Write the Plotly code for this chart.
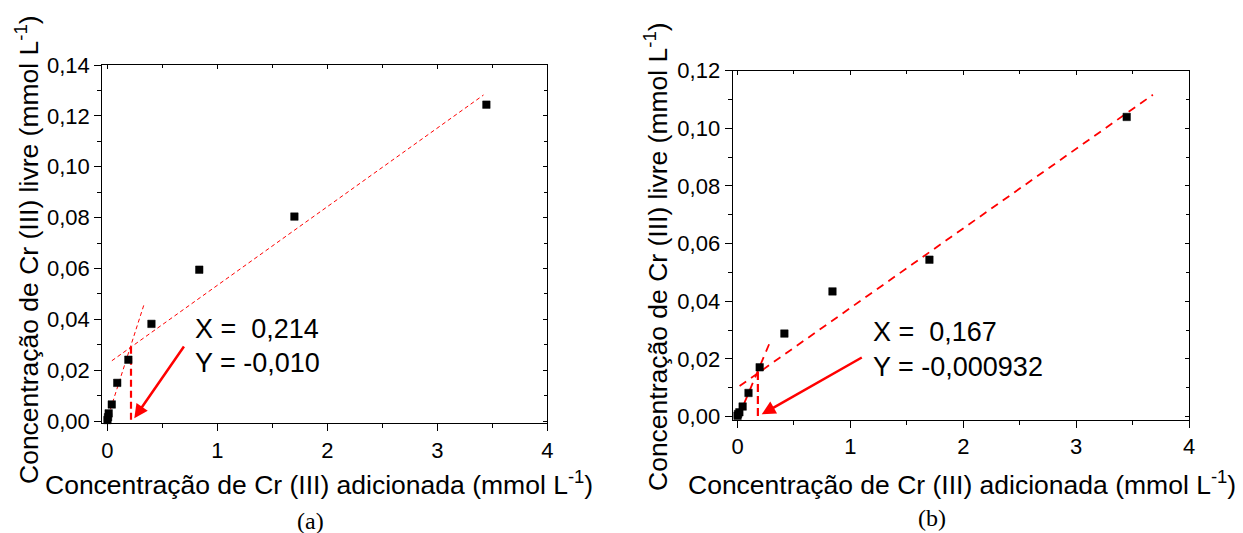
import plotly.graph_objects as go

W, H = 1243, 533
OFF = 8  # the page body offsets the figure by 8 px

# ---------------- data ----------------
# panel (a)
a_x = [0.0, 0.005, 0.011, 0.039, 0.089, 0.19, 0.40, 0.835, 1.70, 3.446]
a_y = [0.0004, 0.0015, 0.003, 0.0065, 0.015, 0.0241, 0.0382, 0.0595, 0.0804, 0.1244]
a_fit1_x = [0.04, 3.42]
a_fit1_y = [0.0237, 0.1282]
a_fit2_x = [-0.012, 0.33]
a_fit2_y = [-0.0006, 0.0455]
a_vline_x = [0.214, 0.214]
a_vline_y = [0.0292, -0.001]
a_arrow_tip = (0.244, 0.0011)
a_arrow_tail = (0.705, 0.0299)
a_text_pos = (0.775, [0.0363, 0.0227])
a_text = ["X =\u00a0\u00a00,214", "Y = -0,010"]

# panel (b)
b_x = [0.0, 0.004, 0.016, 0.045, 0.097, 0.196, 0.415, 0.841, 1.70, 3.448]
b_y = [0.0003, 0.0009, 0.0015, 0.0035, 0.0082, 0.0171, 0.0288, 0.0434, 0.0544, 0.1039]
b_fit1_x = [0.018, 3.68]
b_fit1_y = [0.0106, 0.1116]
b_fit2_x = [-0.037, 0.30]
b_fit2_y = [-0.0043, 0.027]
b_vline_x = [0.18, 0.18]
b_vline_y = [0.0155, -0.001]
b_arrow_tip = (0.214, 0.0008)
b_arrow_tail = (1.114, 0.0208)
b_text_pos = (1.18, [0.0295, 0.0173])
b_text = ["X =\u00a0\u00a00,167", "Y = -0,000932"]

x_title = "Concentração de Cr (III) adicionada (mmol L<sup>-1</sup>)"
y_title = "Concentração de Cr (III) livre (mmol L<sup>-1</sup>)"
captions = ["(a)", "(b)"]

# ---------------- layout geometry (pixels) ----------------
def px_x(x):
    return (x - OFF) / W

def px_y(y):
    return 1 - (y - OFF) / H

def px_dom_x(l, r):
    return [px_x(l), px_x(r)]

def px_dom_y(top, bottom):
    return [px_y(bottom), px_y(top)]

FONT = "Liberation Sans, Arial, sans-serif"
RED = "#ff0000"

fig = go.Figure()

def add_panel(xs, ys, f1x, f1y, f2x, f2y, vx, vy, xa, ya, dash_fit, wfit, dash_v):
    fig.add_trace(go.Scatter(x=f1x, y=f1y, mode="lines", xaxis=xa, yaxis=ya,
                             line=dict(color=RED, width=wfit, dash=dash_fit),
                             showlegend=False, hoverinfo="skip"))
    fig.add_trace(go.Scatter(x=f2x, y=f2y, mode="lines", xaxis=xa, yaxis=ya,
                             line=dict(color=RED, width=wfit, dash=dash_fit),
                             showlegend=False, hoverinfo="skip"))
    fig.add_trace(go.Scatter(x=vx, y=vy, mode="lines", xaxis=xa, yaxis=ya,
                             line=dict(color=RED, width=2.2, dash=dash_v),
                             showlegend=False, hoverinfo="skip"))
    fig.add_trace(go.Scatter(x=xs, y=ys, mode="markers", xaxis=xa, yaxis=ya,
                             marker=dict(symbol="square", size=7.5, color="black",
                                         line=dict(color="black", width=0.5)),
                             showlegend=False, cliponaxis=False))

add_panel(a_x, a_y, a_fit1_x, a_fit1_y, a_fit2_x, a_fit2_y, a_vline_x, a_vline_y,
          "x", "y", "4px,3px", 1.0, "7px,4px")
add_panel(b_x, b_y, b_fit1_x, b_fit1_y, b_fit2_x, b_fit2_y, b_vline_x, b_vline_y,
          "x2", "y2", "8px,6px", 1.8, "8px,4px")

# invisible traces so that the overlay (inner-tick) axes exist
fig.add_trace(go.Scatter(x=[None], y=[None], xaxis="x3", yaxis="y3", showlegend=False, hoverinfo="skip"))
fig.add_trace(go.Scatter(x=[None], y=[None], xaxis="x4", yaxis="y4", showlegend=False, hoverinfo="skip"))

tickfont = dict(family=FONT, size=22, color="black")

def xax(dom, rng, anchor):
    return dict(domain=dom, range=rng, anchor=anchor, tick0=0, dtick=1, tickformat="d",
                ticks="outside", ticklen=7, tickwidth=1.3, tickcolor="black",
                showline=True, linecolor="black", linewidth=1.3, mirror=True,
                showgrid=False, zeroline=False, tickfont=tickfont, automargin=False,
                minor=dict(dtick=0.5, ticks="outside", ticklen=4, tickwidth=1.2, tickcolor="black",
                           showgrid=False))

def yax(dom, rng, anchor):
    return dict(domain=dom, range=rng, anchor=anchor, tick0=0, dtick=0.02, tickformat=".2f",
                ticks="outside", ticklen=7, tickwidth=1.3, tickcolor="black",
                showline=True, linecolor="black", linewidth=1.3, mirror=True,
                showgrid=False, zeroline=False, tickfont=tickfont, automargin=False,
                minor=dict(dtick=0.01, ticks="outside", ticklen=4, tickwidth=1.2, tickcolor="black",
                           showgrid=False))

def xover(base, rng, anchor, dtick, mdtick):
    return dict(overlaying=base, side="top", anchor=anchor, range=rng, tick0=0, dtick=dtick,
                ticks="inside", ticklen=4, tickwidth=1.1, tickcolor="black", automargin=False,
                showticklabels=False, showline=False, showgrid=False, zeroline=False,
                minor=dict(dtick=mdtick, ticks="inside", ticklen=3, tickwidth=1.0, tickcolor="black"))

def yover(base, rng, anchor, dtick, mdtick):
    return dict(overlaying=base, side="right", anchor=anchor, range=rng, tick0=0, dtick=dtick,
                ticks="inside", ticklen=4, tickwidth=1.1, tickcolor="black", automargin=False,
                showticklabels=False, showline=False, showgrid=False, zeroline=False,
                minor=dict(dtick=mdtick, ticks="inside", ticklen=3, tickwidth=1.0, tickcolor="black"))

xa_rng = [-0.047, 4]
ya_rng = [-0.0009, 0.14]
xb_rng = [-0.043, 4]
yb_rng = [-0.001, 0.12]

dom_xa = px_dom_x(102.3, 547.3)
dom_ya = px_dom_y(65, 423.3)
dom_xb = px_dom_x(732.7, 1189)
dom_yb = px_dom_y(70.5, 419.5)

annotations = []

def add_texts(pos, texts, xref, yref):
    for t, yy in zip(texts, pos[1]):
        annotations.append(dict(x=pos[0], y=yy, xref=xref, yref=yref, text=t, showarrow=False,
                                xanchor="left", yanchor="middle",
                                font=dict(family=FONT, size=27, color="black")))

def add_arrow(tip, tail, xref, yref):
    annotations.append(dict(x=tip[0], y=tip[1], ax=tail[0], ay=tail[1], xref=xref, yref=yref,
                            axref=xref, ayref=yref, text="", showarrow=True,
                            arrowhead=2, arrowsize=1.1, arrowwidth=2.5, arrowcolor=RED, standoff=0))

add_texts(a_text_pos, a_text, "x", "y")
add_texts(b_text_pos, b_text, "x2", "y2")
add_arrow(a_arrow_tip, a_arrow_tail, "x", "y")
add_arrow(b_arrow_tip, b_arrow_tail, "x2", "y2")

title_font = dict(family=FONT, size=26.5, color="black")
# axis titles (placed in pixel positions)
for cx, cy in [(319, 483), (962, 483)]:
    annotations.append(dict(x=px_x(cx), y=px_y(cy), xref="paper", yref="paper", text=x_title,
                            showarrow=False, xanchor="center", yanchor="middle", font=title_font))
for cx, cy in [(27, 250), (656, 257)]:
    annotations.append(dict(x=px_x(cx), y=px_y(cy), xref="paper", yref="paper", text=y_title,
                            showarrow=False, xanchor="center", yanchor="middle", textangle=-90,
                            font=title_font))
for cap, (cx, cy) in zip(captions, [(310, 521), (932, 518)]):
    annotations.append(dict(x=px_x(cx), y=px_y(cy), xref="paper", yref="paper", text=cap,
                            showarrow=False, xanchor="center", yanchor="middle",
                            font=dict(family="Liberation Serif, Times New Roman, serif", size=24,
                                      color="black")))

fig.update_layout(
    width=W, height=H,
    margin=dict(l=0, r=0, t=0, b=0, pad=0, autoexpand=False),
    paper_bgcolor="white", plot_bgcolor="white",
    separators=", ",
    showlegend=False,
    xaxis=xax(dom_xa, xa_rng, "y"),
    yaxis=yax(dom_ya, ya_rng, "x"),
    xaxis2=xax(dom_xb, xb_rng, "y2"),
    yaxis2=yax(dom_yb, yb_rng, "x2"),
    xaxis3=xover("x", xa_rng, "y3", 1, 0.5),
    yaxis3=yover("y", ya_rng, "x3", 0.02, 0.01),
    xaxis4=xover("x2", xb_rng, "y4", 1, 0.5),
    yaxis4=yover("y2", yb_rng, "x4", 0.02, 0.01),
    annotations=annotations,
)

fig.write_html("out.html")
